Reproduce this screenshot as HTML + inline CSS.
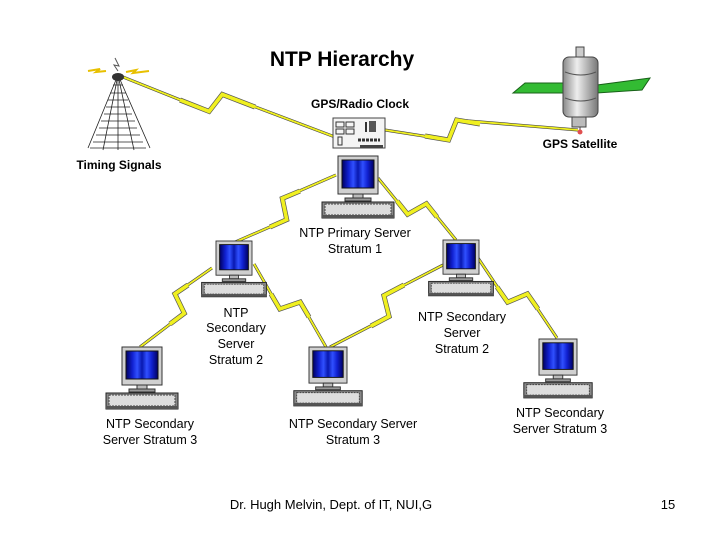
<!DOCTYPE html>
<html><head><meta charset="utf-8"><style>
body{margin:0;background:#fff}
svg{display:block;font-family:"Liberation Sans",Arial,sans-serif}
.k{fill:none;stroke:#444;stroke-width:3;stroke-linejoin:miter}
.y{fill:none;stroke:#f0f020;stroke-width:1.8;stroke-linejoin:miter}
.kb{fill:none;stroke:#555;stroke-width:5;stroke-linejoin:miter}
.yb{fill:none;stroke:#f0f020;stroke-width:3.6;stroke-linejoin:miter}
</style></head><body>
<svg width="720" height="540" viewBox="0 0 720 540" xmlns="http://www.w3.org/2000/svg">
<defs>
<linearGradient id="scr" x1="0" x2="1" y1="0" y2="0">
<stop offset="0" stop-color="#000060"/><stop offset="0.2" stop-color="#1020d0"/><stop offset="0.35" stop-color="#3050ff"/><stop offset="0.5" stop-color="#0818b0"/><stop offset="0.65" stop-color="#3050ff"/><stop offset="0.8" stop-color="#1020d0"/><stop offset="1" stop-color="#000060"/>
</linearGradient>
<linearGradient id="cyl" x1="0" x2="1"><stop offset="0" stop-color="#888"/><stop offset="0.4" stop-color="#eee"/><stop offset="1" stop-color="#777"/></linearGradient>
<g id="pc">
<rect x="0" y="0" width="40" height="38" fill="#d0d0d0" stroke="#333" stroke-width="1"/>
<rect x="4" y="4" width="32" height="28" fill="url(#scr)" stroke="#111"/>
<rect x="15" y="38" width="10" height="4" fill="#bbb" stroke="#333"/>
<rect x="7" y="42" width="26" height="3" fill="#999" stroke="#333"/>
<rect x="-16" y="46" width="72" height="16" fill="#888" stroke="#222"/>
<rect x="-13" y="48" width="66" height="11" fill="#ddd" stroke="#444" stroke-dasharray="2 1"/>
<rect x="-16" y="59" width="72" height="3" fill="#555"/>
</g>
<g id="links">
<polyline points="118,75 209.1,111.4 222.3,94.4 335,137"/>
<polyline points="385,130 448.6,140 456.6,120 578,130"/>
<polyline points="336,175 282.3,198.4 286.7,219.6 233,243"/>
<polyline points="378,178 407.6,214.3 426.4,203.7 456,240"/>
<polyline points="212,268 174.9,293.9 184.3,313.3 140,347"/>
<polyline points="254,264 279.8,309 300.2,302 326,347"/>
<polyline points="443,265 383.9,295.6 389.1,316.4 330,347"/>
<polyline points="478,258 507.6,302.2 527.4,293.8 557,338"/>
</g>
<g id="bolts">
<polyline points="180,100 209.1,111.4 222.3,94.4 255,107"/>
<polyline points="425,136 448.6,140 456.6,120 480,124"/>
<polyline points="300,191 282.3,198.4 286.7,219.6 270,227"/>
<polyline points="397,201 407.6,214.3 426.4,203.7 437,217"/>
<polyline points="188,285 174.9,293.9 184.3,313.3 170,324"/>
<polyline points="271,294 279.8,309 300.2,302 309,317"/>
<polyline points="404,285 383.9,295.6 389.1,316.4 371,326"/>
<polyline points="497,287 507.6,302.2 527.4,293.8 538,309"/>
</g>
</defs>
<use href="#links" class="k"/>
<use href="#bolts" class="kb"/>
<use href="#links" class="y"/>
<use href="#bolts" class="yb"/>
<!-- tower -->
<g stroke="#222" stroke-width="0.8" fill="none">
<path d="M118 75 L88 148 M118 75 L150 148 M118 75 L118 150 M118 75 L103 150 M118 75 L134 150"/>
<path d="M113 85h10M110 93h16M108 100h20M106 107h24M104 114h28M101 121h34M99 128h38M96 135h44M93 142h50M90 148h56"/>
</g>
<ellipse cx="118" cy="77" rx="6" ry="4" fill="#333"/>
<path d="M88 71 l12 -2 -4 3 10 -1" stroke="#e8c000" stroke-width="2" fill="none"/>
<path d="M126 72 l10 -2 -3 3 16 -2" stroke="#e8c000" stroke-width="2" fill="none"/>
<path d="M115 58 l4 8 -5 -1 4 6" stroke="#555" fill="none"/>
<!-- satellite -->
<polygon points="513,93 525,83 570,83 568,93" fill="#33bb33" stroke="#186018"/>
<polygon points="597,85 650,78 642,90 597,93" fill="#33bb33" stroke="#186018"/>
<rect x="576" y="47" width="8" height="12" fill="#ccc" stroke="#444"/>
<rect x="563" y="57" width="35" height="60" rx="6" fill="url(#cyl)" stroke="#444"/>
<path d="M565 72 q16 6 31 0 M565 98 q16 6 31 0" stroke="#555" fill="none"/>
<rect x="572" y="117" width="14" height="10" fill="#bbb" stroke="#444"/>
<line x1="580" y1="127" x2="580" y2="131" stroke="#444"/>
<circle cx="580" cy="132" r="2.5" fill="#e05050"/>
<!-- clock board -->
<rect x="333" y="118" width="52" height="30" fill="#f4f4f4" stroke="#444"/>
<rect x="336" y="122" width="8" height="5" fill="none" stroke="#333"/><rect x="346" y="122" width="8" height="5" fill="none" stroke="#333"/>
<rect x="336" y="129" width="8" height="5" fill="none" stroke="#333"/><rect x="346" y="129" width="8" height="5" fill="none" stroke="#333"/>
<rect x="338" y="137" width="4" height="8" fill="none" stroke="#333"/>
<rect x="365" y="122" width="2" height="10" fill="#333"/><rect x="369" y="121" width="7" height="11" fill="#555"/>
<path d="M358 140h22" stroke="#333" stroke-dasharray="3 1" stroke-width="3"/>
<rect x="360" y="145" width="23" height="3" fill="#444"/>
<use href="#pc" x="338" y="156"/>
<use href="#pc" x="216" y="241" transform="translate(216,241) scale(0.9) translate(-216,-241)"/>
<use href="#pc" x="443" y="240" transform="translate(443,240) scale(0.9) translate(-443,-240)"/>
<use href="#pc" x="122" y="347"/>
<use href="#pc" x="309" y="347" transform="translate(309,347) scale(0.95) translate(-309,-347)"/>
<use href="#pc" x="539" y="339" transform="translate(539,339) scale(0.95) translate(-539,-339)"/>
<g fill="#000" font-weight="bold" text-anchor="middle">
<text x="342" y="66" font-size="21">NTP Hierarchy</text>
<text x="360" y="108" font-size="12">GPS/Radio Clock</text>
<text x="119" y="169" font-size="12">Timing Signals</text>
<text x="580" y="148" font-size="12">GPS Satellite</text>
</g>
<g fill="#000" font-size="12.5" text-anchor="middle">
<text x="355" y="237">NTP Primary Server</text><text x="355" y="253">Stratum 1</text>
<text x="236" y="317">NTP</text><text x="236" y="332">Secondary</text><text x="236" y="348">Server</text><text x="236" y="364">Stratum 2</text>
<text x="462" y="321">NTP Secondary</text><text x="462" y="337">Server</text><text x="462" y="353">Stratum 2</text>
<text x="150" y="428">NTP Secondary</text><text x="150" y="444">Server Stratum 3</text>
<text x="353" y="428">NTP Secondary Server</text><text x="353" y="444">Stratum 3</text>
<text x="560" y="417">NTP Secondary</text><text x="560" y="433">Server Stratum 3</text>
<text x="331" y="509" font-size="13">Dr. Hugh Melvin, Dept. of IT, NUI,G</text>
<text x="668" y="509" font-size="13">15</text>
</g>
</svg>
</body></html>
